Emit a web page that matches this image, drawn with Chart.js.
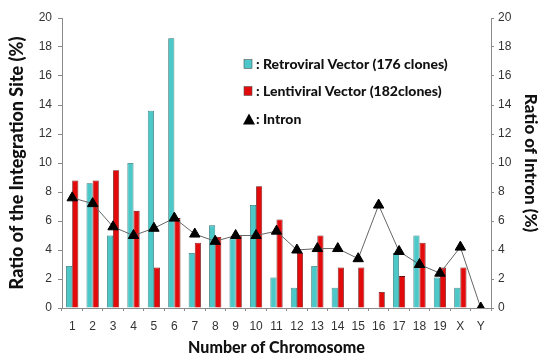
<!DOCTYPE html>
<html>
<head>
<meta charset="utf-8">
<script src="https://cdn.jsdelivr.net/npm/chart.js@4.4.1/dist/chart.umd.min.js"></script>
<style>
  html, body { margin: 0; padding: 0; background: #fff; }
  #wrap { width: 539px; height: 358px; position: relative; }
</style>
</head>
<body>
<div id="wrap"><canvas id="chart" width="539" height="358"></canvas></div>
<script>
// data
const chromosomes = ["1","2","3","4","5","6","7","8","9","10","11","12","13","14","15","16","17","18","19","X","Y"];
const retroviral = [2.9, 8.6, 5.0, 10.0, 13.6, 18.6, 3.8, 5.7, 4.8, 7.1, 2.1, 1.4, 2.9, 1.4, 0, 0, 3.8, 5.0, 2.1, 1.4, 0];
const lentiviral = [8.8, 8.8, 9.5, 6.7, 2.8, 6.2, 4.5, 4.9, 5.0, 8.4, 6.1, 3.8, 5.0, 2.8, 2.8, 1.1, 2.2, 4.5, 2.8, 2.8, 0];
const intron = [7.6, 7.2, 5.6, 5.0, 5.5, 6.2, 5.1, 4.6, 5.0, 5.0, 5.3, 4.0, 4.1, 4.1, 3.4, 7.1, 3.9, 3.0, 2.4, 4.2, 0];
const yTicks = [0, 2, 4, 6, 8, 10, 12, 14, 16, 18, 20];

const CYAN = "#4cc8c8";
const RED = "#e20a0a";
const AXIS = "#8a8a8a";
const TXT = "#333";
const TITLE_FONT = "Lato, 'Open Sans', sans-serif";

// legend drawn inside the plot, like the original
const cornerLegend = {
  id: "cornerLegend",
  afterDatasetsDraw(chart) {
    const { ctx, chartArea } = chart;
    const x0 = chartArea.left + 182;
    const rows = [46, 73, 101];
    ctx.save();
    ctx.font = "900 14px " + TITLE_FONT;
    ctx.textBaseline = "middle";
    chart.data.datasets.forEach((ds, i) => {
      const y = chartArea.top + rows[i];
      if (ds.type === "line") {
        ctx.beginPath();
        ctx.moveTo(x0 - 1, y + 5.5);
        ctx.lineTo(x0 + 11, y + 5.5);
        ctx.lineTo(x0 + 5, y - 5.5);
        ctx.closePath();
        ctx.fillStyle = "#000";
        ctx.fill();
      } else {
        ctx.fillStyle = ds.backgroundColor;
        ctx.fillRect(x0, y - 4.5, 8, 9);
        ctx.strokeStyle = "#555";
        ctx.lineWidth = 0.6;
        ctx.strokeRect(x0, y - 4.5, 8, 9);
      }
      ctx.fillStyle = "#111";
      ctx.fillText(": " + ds.label, x0 + 12, y);
    });
    ctx.restore();
  }
};

const ctx = document.getElementById("chart");
new Chart(ctx, {
  data: {
    labels: chromosomes,
    datasets: [
      {
        type: "bar",
        label: "Retroviral Vector (176 clones)",
        data: retroviral,
        backgroundColor: CYAN,
        borderColor: "#2f6f6f",
        borderWidth: 0.8,
        categoryPercentage: 0.6,
        barPercentage: 1.0,
        order: 2,
        yAxisID: "y"
      },
      {
        type: "bar",
        label: "Lentiviral Vector (182clones)",
        data: lentiviral,
        backgroundColor: RED,
        borderColor: "#6a1010",
        borderWidth: 0.8,
        categoryPercentage: 0.6,
        barPercentage: 1.0,
        order: 2,
        yAxisID: "y"
      },
      {
        type: "line",
        label: "Intron",
        data: intron,
        borderColor: "#666",
        borderWidth: 1,
        pointStyle: "triangle",
        pointRadius: 6,
        pointBackgroundColor: "#000",
        pointBorderColor: "#000",
        tension: 0,
        order: 1,
        yAxisID: "y1"
      }
    ]
  },
  options: {
    responsive: false,
    animation: false,
    devicePixelRatio: 1,
    layout: { padding: { top: 18, left: 0, right: 0, bottom: 0 } },
    plugins: {
      legend: { display: false },
      tooltip: { enabled: false }
    },
    scales: {
      x: {
        offset: true,
        grid: { offset: true, drawOnChartArea: false, tickLength: 3, color: AXIS },
        border: { color: AXIS },
        ticks: { color: TXT, font: { family: "'Liberation Sans', Arial", size: 12 }, padding: 8, maxRotation: 0, autoSkip: false },
        title: {
          display: true,
          text: "Number of Chromosome",
          color: "#111",
          font: { family: TITLE_FONT, size: 16, weight: "900", lineHeight: 1.1 },
          padding: { top: 0, bottom: 1 }
        },
        afterFit: (s) => { s.height = 50; }
      },
      y: {
        position: "left",
        min: 0,
        max: 20,
        afterBuildTicks: (s) => { s.ticks = yTicks.map((v) => ({ value: v })); },
        grid: { drawOnChartArea: false, tickLength: 4, color: AXIS },
        border: { color: AXIS },
        ticks: { color: TXT, font: { family: "'Liberation Sans', Arial", size: 12 }, padding: 6 },
        title: {
          display: true,
          text: "Ratio of the Integration Site (%)",
          color: "#111",
          font: { family: TITLE_FONT, size: 18, weight: "900", lineHeight: 1 },
          padding: { top: 8, bottom: 0 }
        },
        afterFit: (s) => { s.width = 62; }
      },
      y1: {
        position: "right",
        min: 0,
        max: 20,
        afterBuildTicks: (s) => { s.ticks = yTicks.map((v) => ({ value: v })); },
        grid: { drawOnChartArea: false, tickLength: 3, color: AXIS },
        border: { color: AXIS },
        ticks: { color: TXT, font: { family: "'Liberation Sans', Arial", size: 12 }, padding: 4 },
        title: {
          display: true,
          text: "Ratio of Intron (%)",
          color: "#111",
          font: { family: TITLE_FONT, size: 17, weight: "900", lineHeight: 1 },
          padding: { top: 0, bottom: 0 }
        },
        afterFit: (s) => { s.width = 48; }
      }
    }
  },
  plugins: [cornerLegend]
});
</script>
</body>
</html>
